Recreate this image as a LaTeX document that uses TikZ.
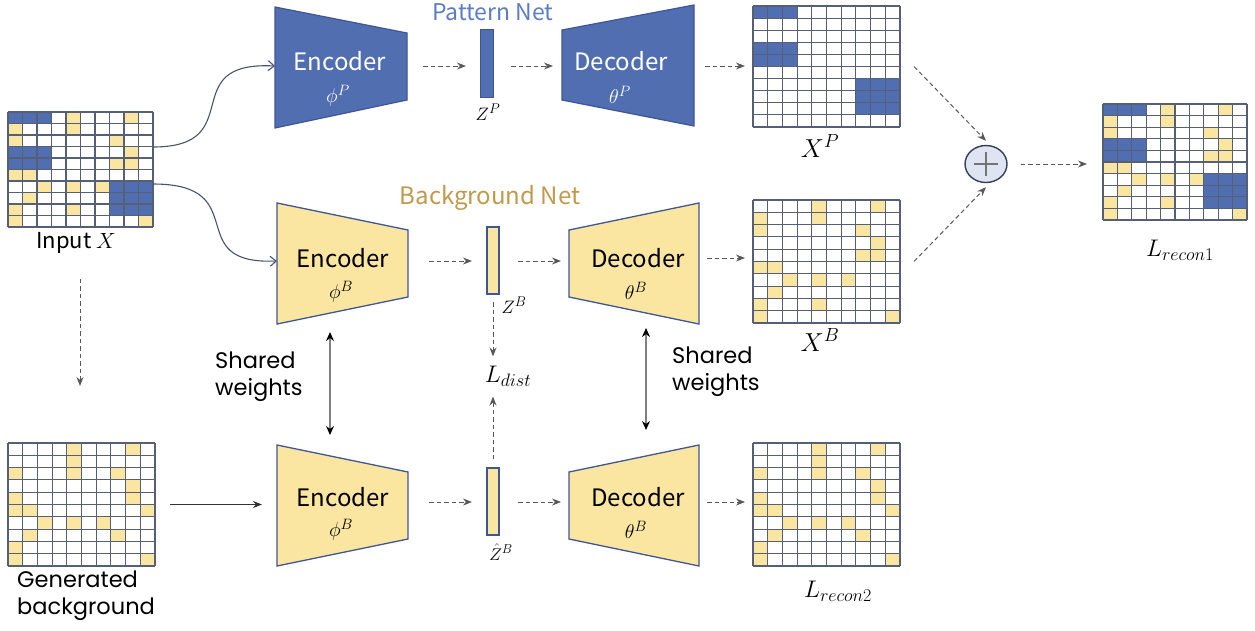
\RequirePackage{fix-cm}
\documentclass[tikz,border=0pt]{standalone}
\usepackage{fontspec}
\newfontfamily\cjkf{Noto Sans CJK SC}
\newfontfamily\popf{Poppins}
\DeclareMathSizes{26}{26}{19}{14}
\DeclareMathSizes{24}{24}{18}{13}
\DeclareMathSizes{20}{20}{15}{11}
\DeclareMathSizes{18}{18}{14}{10}
\DeclareMathSizes{17}{17}{13}{10}
\usetikzlibrary{arrows.meta,shapes.geometric,calc}
\definecolor{blueF}{RGB}{80,110,176}
\definecolor{yelF}{RGB}{251,230,161}
\definecolor{gridC}{RGB}{85,96,118}
\definecolor{edgeC}{RGB}{62,86,150}
\definecolor{patT}{RGB}{92,124,196}
\definecolor{bgT}{RGB}{193,153,76}
\definecolor{arrC}{RGB}{88,88,88}
\definecolor{curC}{RGB}{68,84,110}
\definecolor{plusF}{RGB}{222,228,242}
\definecolor{plusE}{RGB}{52,62,88}
\newcommand{\gsetup}[4]{\def\gxo{#1}\def\gyo{#2}\pgfmathsetmacro\gcw{(#3-#1)/10}\pgfmathsetmacro\gch{(#4-#2)/10}}
\newcommand{\gcells}[2]{\foreach \gr/\gc in #2{\fill[#1] ({\gxo+\gc*\gcw},{\gyo+\gr*\gch}) rectangle ++(\gcw,\gch);}}
\newcommand{\glines}{\foreach \gi in {0,...,10}{\draw[gridline] ({\gxo+\gi*\gcw},\gyo) -- ({\gxo+\gi*\gcw},{\gyo+10*\gch}); \draw[gridline] (\gxo,{\gyo+\gi*\gch}) -- ({\gxo+10*\gcw},{\gyo+\gi*\gch});}}
\def\blueList{0/0,0/1,0/2,3/0,3/1,3/2,4/0,4/1,4/2,6/7,6/8,6/9,7/7,7/8,7/9,8/7,8/8,8/9}
\def\yelX{0/4,0/8,1/0,1/4,2/0,2/7,3/8,4/7,4/8,5/0,5/1,6/2,6/4,6/6,7/1,8/0,8/4,9/0,9/9}
\def\yelG{0/4,0/8,1/4,2/0,2/4,2/7,3/8,4/0,4/8,5/0,5/1,5/9,6/2,6/4,6/6,7/1,7/7,8/0,9/0,9/9}
\begin{document}
\begin{tikzpicture}[x=1pt,y=-1pt,
  gridline/.style={draw=gridC,line width=1.05pt},
  box/.style={inner sep=0pt,outer sep=0pt,draw=none},
  trapP/.style={fill=blueF,draw=edgeC,line width=1.2pt,line join=miter},
  trapB/.style={fill=yelF,draw=edgeC,line width=1.3pt,line join=miter},
  zbarP/.style={box,fill=blueF,draw=edgeC,line width=1pt,minimum width=13pt,minimum height=68pt},
  zbarB/.style={box,fill=yelF,draw=edgeC,line width=1.1pt,minimum width=12pt,minimum height=67pt},
  ttl/.style={font=\cjkf\fontsize{24}{28}\selectfont,inner sep=0pt},
  ttlW/.style={ttl,text=white},
  mth/.style={font=\fontsize{20}{22}\selectfont,inner sep=0pt},
  mthW/.style={mth,text=white},
  smth/.style={font=\fontsize{18}{20}\selectfont,inner sep=0pt},
  bmth/.style={font=\fontsize{24}{26}\selectfont,inner sep=0pt},
  xmth/.style={font=\fontsize{26}{28}\selectfont,inner sep=0pt},
  pop/.style={font=\popf\fontsize{22.5}{27}\selectfont,inner sep=0pt,align=left},
  dar/.style={draw=arrC,dashed,dash pattern=on 4.5pt off 3pt,line width=1pt,-{Stealth[length=9pt,width=7pt]},color=arrC},
  sw/.style={draw=black!50,line width=1.3pt,{Stealth[length=9pt,width=8pt,color=black]}-{Stealth[length=9pt,width=8pt,color=black]}},
  cur/.style={draw=curC,line width=1.1pt,-{Straight Barb[length=6pt,width=10pt]}}
]
\useasboundingbox (0,0) rectangle (1255,630);

% ---------- grids ----------
\node[box,minimum width=145pt,minimum height=115pt] (inX) at (80.5,169.5) {};
\gsetup{8}{112}{153}{227}\gcells{blueF}{\blueList}\gcells{yelF}{\yelX}\glines
\node[box,minimum width=147pt,minimum height=121pt] (xP) at (826.5,66.5) {};
\gsetup{753}{6}{900}{127}\gcells{blueF}{\blueList}\glines
\node[box,minimum width=147pt,minimum height=123pt] (xB) at (826.5,261.5) {};
\gsetup{753}{200}{900}{323}\gcells{yelF}{\yelX}\glines
\node[box,minimum width=147pt,minimum height=123pt] (xR2) at (826.5,504.5) {};
\gsetup{753}{443}{900}{566}\gcells{yelF}{\yelG}\glines
\node[box,minimum width=144pt,minimum height=116pt] (xR1) at (1175,162) {};
\gsetup{1103}{104}{1247}{220}\gcells{blueF}{\blueList}\gcells{yelF}{\yelX}\glines
\node[box,minimum width=147pt,minimum height=123pt] (gen) at (81.5,504.5) {};
\gsetup{8}{443}{155}{566}\gcells{yelF}{\yelG}\glines

% ---------- grid labels ----------
\node[ttl,font=\cjkf\fontsize{22}{26}\selectfont] (inXl) at (76,243) {Input $X$};
\node[xmth] (xPl) at (820,146) {$X^{P}$};
\node[xmth] (xBl) at (820,340) {$X^{B}$};
\node[bmth] (xR2l) at (838,591) {$L_{recon2}$};
\node[bmth] (xR1l) at (1180,250) {$L_{recon1}$};
\node[pop,anchor=west] (genl) at (17,596) {Generated\\background};

% ---------- Pattern net ----------
\node[ttl,text=patT,font=\cjkf\fontsize{23}{26}\selectfont] (patl) at (493,12) {Pattern Net};
\draw[trapP] (275,7) -- (407,33) -- (407,100) -- (275,128) -- cycle;
\node[box,minimum width=132pt,minimum height=121pt] (encP) at (341,66) {};
\node[ttlW] (encPt) at (340,61) {Encoder};
\node[mthW] (encPm) at (338,96) {$\phi^{P}$};
\node[zbarP] (zP) at (486.5,63) {};
\node[smth] (zPl) at (488,112) {$Z^{P}$};
\draw[trapP] (562,30) -- (694,5) -- (694,126) -- (562,100) -- cycle;
\node[box,minimum width=132pt,minimum height=121pt] (decP) at (628,66) {};
\node[ttlW] (decPt) at (621,61) {Decoder};
\node[mthW] (decPm) at (620,95) {$\theta^{P}$};

% ---------- Background net ----------
\node[ttl,text=bgT] (bgl) at (490,198) {Background Net};
\draw[trapB] (277,203) -- (408,230) -- (408,297) -- (277,324) -- cycle;
\node[box,minimum width=131pt,minimum height=121pt] (encB) at (342.5,261) {};
\node[ttl] (encBt) at (343,258) {Encoder};
\node[mth] (encBm) at (341,292) {$\phi^{B}$};
\node[zbarB] (zB) at (493,260.5) {};
\node[smth] (zBl) at (514,305) {$Z^{B}$};
\draw[trapB] (569,230) -- (699,203) -- (699,324) -- (569,297) -- cycle;
\node[box,minimum width=130pt,minimum height=121pt] (decB) at (634,261) {};
\node[ttl] (decBt) at (638,258) {Decoder};
\node[mth] (decBm) at (636,291) {$\theta^{B}$};

% ---------- bottom branch ----------
\draw[trapB] (277,445) -- (408,472) -- (408,539) -- (277,566) -- cycle;
\node[box,minimum width=131pt,minimum height=121pt] (encB2) at (342.5,502) {};
\node[ttl] (encB2t) at (343,497) {Encoder};
\node[mth] (encB2m) at (341,530) {$\phi^{B}$};
\node[zbarB] (zH) at (493,501.5) {};
\node[smth,font=\fontsize{17}{19}\selectfont] (zHl) at (501,552) {$\hat{Z}^{B}$};
\draw[trapB] (569,472) -- (699,445) -- (699,566) -- (569,539) -- cycle;
\node[box,minimum width=130pt,minimum height=121pt] (decB2) at (634,502) {};
\node[ttl] (decB2t) at (638,497) {Decoder};
\node[mth] (decB2m) at (636,530) {$\theta^{B}$};

\node[bmth] (ldist) at (508,376) {$L_{dist}$};

% ---------- shared weights ----------
\node[pop,anchor=west] (swl) at (215,377) {Shared\\weights};
\node[pop,anchor=west] (swr) at (672,372) {Shared\\weights};
\coordinate (swL1) at (330,332); \coordinate (swL2) at (330,435);
\coordinate (swR1) at (646,328); \coordinate (swR2) at (646,430);
\draw[sw] (swL1) -- (swL2);
\draw[sw] (swR1) -- (swR2);

% ---------- plus ----------
\node[ellipse,draw=plusE,fill=plusF,line width=1.4pt,minimum width=42pt,minimum height=37pt,inner sep=0pt] (plus) at (986,164) {};
\draw[draw=black!55,line width=1.3pt] ($(plus.center)+(-12,0)$) -- ($(plus.center)+(12,0)$);
\draw[draw=black!55,line width=1.3pt] ($(plus.center)+(0,-12)$) -- ($(plus.center)+(0,12)$);

% ---------- connectors ----------
\draw[cur] ([yshift=22.5pt]inX.east) .. controls (250,147) and (174,61) .. (encP.west);
\draw[cur] ([yshift=-14.5pt]inX.east) .. controls (255,184) and (180,265) .. (encB.west);

\draw[dar,shorten <=16pt,shorten >=14pt] (encP.east) -- (encP.east -| zP.west);
\draw[dar,shorten <=18pt,shorten >=9pt] (zP.east |- encP.east) -- (decP.west);
\draw[dar,shorten <=11pt,shorten >=8pt] (decP.east) -- (decP.east -| xP.west);

\draw[dar,shorten <=21pt,shorten >=15pt] (encB.east) -- (encB.east -| zB.west);
\draw[dar,shorten <=19pt,shorten >=8pt] (zB.east |- encB.east) -- (decB.west);
\draw[dar,shorten <=8pt,shorten >=8pt] ([yshift=3pt]decB.east) -- ([yshift=3pt]decB.east -| xB.west);

\draw[dar,shorten <=21pt,shorten >=15pt] (encB2.east) -- (encB2.east -| zH.west);
\draw[dar,shorten <=19pt,shorten >=8pt] (zH.east |- encB2.east) -- (decB2.west);
\draw[dar,shorten <=8pt,shorten >=8pt] (decB2.east) -- (decB2.east -| xR2.west);

\draw[dar,shorten <=8pt,shorten >=9pt] (zB.south) -- (zB.south |- ldist.north);
\draw[dar,shorten <=9pt,shorten >=10pt] (zH.north) -- (zH.north |- ldist.south);

\draw[dar,shorten <=25pt,shorten >=57pt] (inXl.south -| 80,0) -- (gen.north -| 80,0);
\draw[draw=black!80,line width=1pt,-{Stealth[length=9pt,width=7pt]},shorten <=15pt,shorten >=15pt] (gen.east) -- (gen.east -| encB2.west);

\draw[dar] ([xshift=14pt]xP.east) -- ([yshift=4pt]plus.north);
\draw[dar] ([xshift=14pt]xB.east) -- ([yshift=-4pt]plus.south);
\draw[dar,shorten <=13pt,shorten >=16pt] (plus.east) -- (plus.east -| xR1.west);
\end{tikzpicture}
\end{document}
